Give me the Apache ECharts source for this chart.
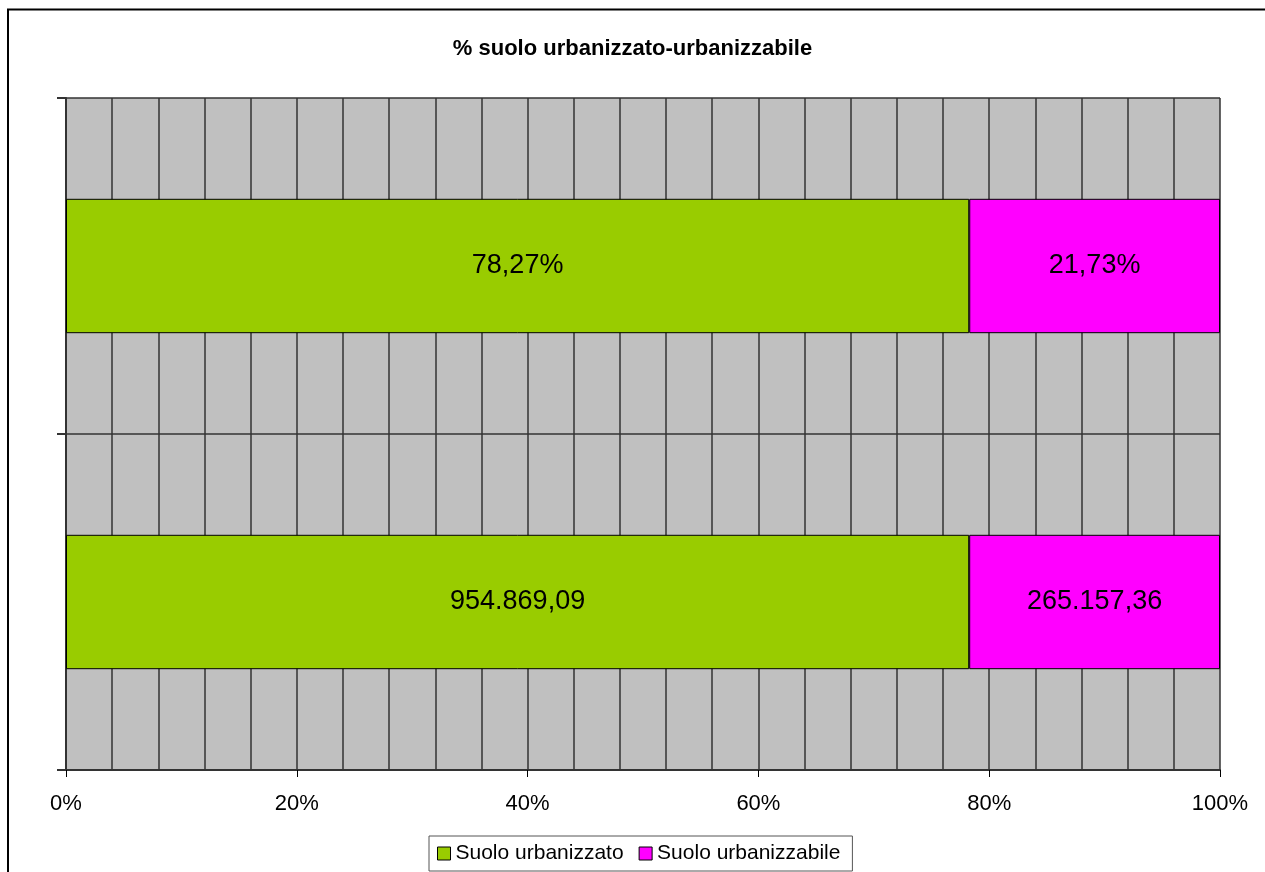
<!DOCTYPE html>
<html>
<head>
<meta charset="utf-8">
<script src="https://cdn.jsdelivr.net/npm/echarts@6/dist/echarts.min.js"></script>
<style>
  html, body { margin: 0; padding: 0; background: #fff; }
  #chart { width: 1265px; height: 872px; }
</style>
</head>
<body>
<div id="chart"></div>
<script>
// Rows, bottom to top: surface in square metres, then the share in percent
const categories = ['Superficie', 'Percentuale'];
const seriesNames = ['Suolo urbanizzato', 'Suolo urbanizzabile'];
const urbanizzato = [954869.09, 78.27];
const urbanizzabile = [265157.36, 21.73];
const labelSuffix = ['', '%'];
const xTicks = [0, 20, 40, 60, 80, 100];

// Italian number format: dot thousands separator, comma decimals
function fmtIt(v) {
  const parts = v.toFixed(2).split('.');
  parts[0] = parts[0].replace(/\B(?=(\d{3})+(?!\d))/g, '.');
  return parts[0] + ',' + parts[1];
}

// 100% stacking: each row is scaled to its own total
const totals = categories.map((_, i) => urbanizzato[i] + urbanizzabile[i]);
const pctUrb = urbanizzato.map((v, i) => v / totals[i] * 100);
const pctUrbz = urbanizzabile.map((v, i) => v / totals[i] * 100);
const raw = [urbanizzato, urbanizzabile];

const FONT = 'Liberation Sans, Arial, sans-serif';
const chart = echarts.init(document.getElementById('chart'), null, { renderer: 'canvas' });

const labelCfg = (sIdx) => ({
  show: true,
  position: 'inside',
  color: '#000',
  fontFamily: FONT,
  fontSize: 27,
  formatter: (p) => fmtIt(raw[sIdx][p.dataIndex]) + labelSuffix[p.dataIndex]
});

chart.setOption({
  animation: false,
  backgroundColor: '#fff',
  textStyle: { fontFamily: FONT },
  graphic: [{
    type: 'rect',
    shape: { x: 8, y: 9.5, width: 1400, height: 1000 },
    style: { fill: 'none', stroke: '#000', lineWidth: 2 },
    silent: true, z: 100
  }],
  title: {
    text: '% suolo urbanizzato-urbanizzabile',
    left: 'center',
    top: 38,
    padding: 0,
    textStyle: { fontSize: 22, fontWeight: 'bold', color: '#000', fontFamily: FONT }
  },
  legend: {
    data: seriesNames,
    bottom: 1,
    left: 429,
    itemWidth: 13,
    itemHeight: 13,
    itemGap: 15,
    padding: [7, 12, 7, 8],
    borderColor: '#555',
    borderWidth: 1,
    textStyle: { fontSize: 21, color: '#000', fontFamily: FONT },
    icon: 'rect',
    itemStyle: { borderColor: '#000', borderWidth: 1 }
  },
  grid: { left: 66, right: 45, top: 98, bottom: 102, containLabel: false,
          show: true, backgroundColor: '#C0C0C0', borderWidth: 0 },
  xAxis: {
    type: 'value',
    min: xTicks[0],
    max: xTicks[xTicks.length - 1],
    interval: 20,
    axisLine: { show: true, lineStyle: { color: '#333', width: 2 } },
    axisTick: { show: true, length: 7, lineStyle: { color: '#000', width: 1 } },
    axisLabel: { fontSize: 22, color: '#000', margin: 23, fontFamily: FONT, formatter: (v) => v + '%' },
    splitLine: { show: true, lineStyle: { color: '#333', width: 1.5 } },
    minorTick: { show: false, splitNumber: 5 },
    minorSplitLine: { show: true, lineStyle: { color: '#333', width: 1.5 } }
  },
  yAxis: {
    type: 'category',
    data: categories,
    axisLine: { show: true, lineStyle: { color: '#333', width: 2 } },
    axisTick: { show: true, length: 9, lineStyle: { color: '#333', width: 2 } },
    axisLabel: { show: false },
    splitLine: { show: true, lineStyle: { color: '#333', width: 1.5 } }
  },
  series: [
    {
      name: seriesNames[0], type: 'bar', stack: 'tot', barWidth: '40%',
      data: pctUrb,
      itemStyle: { color: '#99CC00', borderColor: '#000', borderWidth: 1 },
      label: labelCfg(0)
    },
    {
      name: seriesNames[1], type: 'bar', stack: 'tot', barWidth: '40%',
      data: pctUrbz,
      itemStyle: { color: '#FF00FF', borderColor: '#000', borderWidth: 1 },
      label: labelCfg(1)
    }
  ]
});
</script>
</body>
</html>
